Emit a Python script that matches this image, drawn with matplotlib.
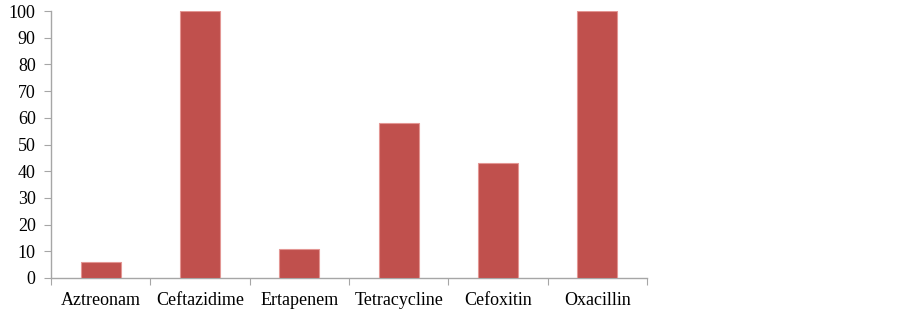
import numpy as np
import matplotlib
matplotlib.use('Agg')
import matplotlib.pyplot as plt

antibioticos = ['Aztreonam', 'Ceftazidime', 'Ertapenem', 'Tetracycline', 'Cefoxitin', 'Oxacillin']
porcentajes = [6, 100, 11, 58, 43, 100]

plt.rcParams['font.family'] = ['Liberation Serif', 'DejaVu Serif']

fig = plt.figure(figsize=(9.03, 3.11), dpi=100)
ax = fig.add_axes([51/903, 33/311, 596/903, 267/311])

x = np.arange(len(antibioticos))
ax.bar(x, porcentajes, width=0.4, color='#C0504D', edgecolor='#E39693', linewidth=0.8, zorder=3)

ax.set_xlim(-0.5, len(antibioticos) - 0.5)
ax.set_ylim(0, 100)
ax.set_yticks(np.arange(0, 101, 10))
ax.tick_params(axis='y', labelsize=13, length=5, color='#A6A6A6', pad=6)

# ticks del eje x entre categorias
ax.set_xticks(np.arange(-0.5, len(antibioticos), 1))
ax.set_xticklabels([])
ax.set_xticks(x, minor=True)
ax.set_xticklabels(antibioticos, minor=True, fontsize=13)
ax.tick_params(axis='x', which='major', length=5, color='#A6A6A6')
ax.tick_params(axis='x', which='minor', length=0, pad=10)

for s in ['top', 'right']:
    ax.spines[s].set_visible(False)
for s in ['left', 'bottom']:
    ax.spines[s].set_color('#A6A6A6')
    ax.spines[s].set_linewidth(1)

fig.savefig('out.png', dpi=100)
